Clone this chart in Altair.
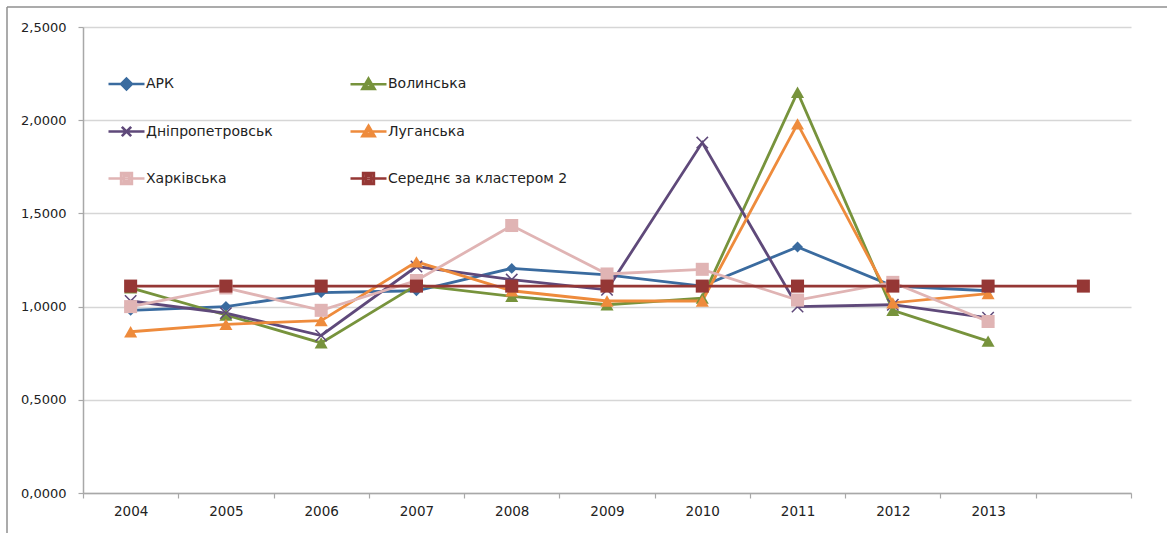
import altair as alt
import pandas as pd

categories = ["2004", "2005", "2006", "2007", "2008", "2009", "2010", "2011", "2012", "2013", " "]
series_names = ["АРК", "Волинська", "Дніпропетровськ", "Луганська", "Харківська", "Середнє за кластером 2"]

ark = [0.98, 1.00, 1.075, 1.085, 1.205, 1.17, 1.11, 1.32, 1.11, 1.085]
volyn = [1.10, 0.955, 0.805, 1.115, 1.055, 1.01, 1.045, 2.15, 0.98, 0.815]
dnipro = [1.03, 0.965, 0.845, 1.215, 1.145, 1.09, 1.88, 1.00, 1.01, 0.94]
luhansk = [0.865, 0.905, 0.925, 1.24, 1.085, 1.03, 1.03, 1.98, 1.02, 1.07]
kharkiv = [1.00, 1.10, 0.98, 1.14, 1.435, 1.175, 1.20, 1.035, 1.13, 0.92]
cluster_mean = [1.11, 1.11, 1.11, 1.11, 1.11, 1.11, 1.11, 1.11, 1.11, 1.11, 1.11]

y_ticks = [0, 0.5, 1.0, 1.5, 2.0, 2.5]

colors = ["#3A6B9F", "#77933C", "#5F497A", "#EE8B3C", "#E0B4B4", "#953735"]

X_PATH = "M-1,-1L1,1M-1,1L1,-1"
marker_shapes = ["diamond", "triangle-up", X_PATH, "triangle-up", "square", "square"]
marker_sizes = [120, 170, 130, 170, 170, 170]

DIAMOND_L = "M-1,0H1M0,-0.3L0.3,0L0,0.3L-0.3,0ZM0,-0.15L0.15,0L0,0.15L-0.15,0Z"
TRI_L = "M-1,0H1M0,-0.32L0.34,0.26L-0.34,0.26ZM0,-0.13L0.17,0.16L-0.17,0.16Z"
X_L = "M-1,0H1M-0.26,-0.26L0.26,0.26M-0.26,0.26L0.26,-0.26"
SQ_L = "M-1,0H1M-0.3,-0.3H0.3V0.3H-0.3ZM-0.15,-0.15H0.15V0.15H-0.15Z"
legend_shapes = [DIAMOND_L, TRI_L, X_L, TRI_L, SQ_L, SQ_L]

rows = []
for s_i, (name, vals) in enumerate(zip(series_names, [ark, volyn, dnipro, luhansk, kharkiv, cluster_mean])):
    for cat, v in zip(categories, vals):
        rows.append({"series": name, "year": cat, "value": v, "s": s_i})
df = pd.DataFrame(rows)

FONT = "DejaVu Sans"
GRID = "#d6d6d6"
AXIS = "#a8a8a8"
FRAME = "#8f8f8f"

x_enc = alt.X(
    "year:N",
    sort=categories,
    scale=alt.Scale(type="point", domain=categories, padding=0.5),
    axis=alt.Axis(
        title=None, ticks=False, domain=False, grid=False, labelAngle=0,
        labelFont=FONT, labelFontSize=13.5, labelColor="#222222",
        labelPadding=11, orient="bottom",
    ),
)
y_enc = alt.Y(
    "value:Q",
    scale=alt.Scale(domain=[0, 2.5], nice=False, zero=True),
    axis=alt.Axis(
        title=None, values=y_ticks,
        labelExpr="replace(format(datum.value, '.4f'), '.', ',')",
        grid=True, gridColor=GRID, gridWidth=1.5,
        domainColor=AXIS, domainWidth=1.5, tickColor=AXIS, tickWidth=1.2,
        tickSize=5, labelPadding=12, labelFont=FONT, labelFontSize=13,
        labelColor="#222222",
    ),
)

line_layers = []
point_layers = []
for i, name in enumerate(series_names):
    base = alt.Chart(df).transform_filter(alt.datum.series == name)
    line_layers.append(base.mark_line(strokeWidth=2.8, color=colors[i]).encode(x=x_enc, y=y_enc))
    if marker_shapes[i] == X_PATH:
        mk = base.mark_point(filled=False, opacity=1, size=marker_sizes[i], strokeWidth=1.5,
                             shape=X_PATH, color=colors[i])
    else:
        mk = base.mark_point(filled=True, opacity=1, size=marker_sizes[i],
                             shape=marker_shapes[i], color=colors[i])
    point_layers.append(mk.encode(x=x_enc, y=y_enc))

leg = alt.Legend(
    orient="none", legendX=24, legendY=37, columns=2, columnPadding=72,
    rowPadding=17, symbolSize=1296, symbolStrokeWidth=2.6, symbolOpacity=1,
    labelFont=FONT, labelFontSize=14, labelColor="#222222", labelOffset=0,
    labelLimit=400, padding=0, title=None, direction="horizontal",
)

legend_layer = alt.Chart(df).transform_filter("false").mark_point(filled=False, opacity=1).encode(
    x=x_enc, y=y_enc,
    color=alt.Color("series:N", scale=alt.Scale(domain=series_names, range=colors), legend=leg),
    shape=alt.Shape("series:N", scale=alt.Scale(domain=series_names, range=legend_shapes), legend=leg),
)

frame_src = alt.Chart(pd.DataFrame({"k": [0]}))
frame_left = frame_src.mark_rule(color=FRAME, strokeWidth=1.5).encode(
    x=alt.value(-76), y=alt.value(-20), y2=alt.value(520)
)
frame_top = frame_src.mark_rule(color=FRAME, strokeWidth=1.5).encode(
    x=alt.value(-76), x2=alt.value(1140), y=alt.value(-20)
)

tick_layer = alt.Chart(df).transform_filter("false").mark_point(opacity=0).encode(
    x=alt.X(
        "idx:Q",
        scale=alt.Scale(domain=[0, len(categories)], nice=False, zero=False),
        axis=alt.Axis(
            title=None, values=list(range(len(categories) + 1)), labels=False,
            ticks=True, tickSize=5, tickColor=AXIS, tickWidth=1.2, grid=False,
            domain=True, domainColor=AXIS, domainWidth=1.5, orient="bottom",
        ),
    ),
)

main = alt.layer(frame_left, frame_top, *line_layers, *point_layers, legend_layer)

chart = (
    alt.layer(tick_layer, main)
    .resolve_scale(x="independent")
    .properties(
        width=1048, height=466,
        padding={"left": 83, "top": 27, "right": 36, "bottom": 40},
        autosize=alt.AutoSizeParams(type="none"),
        background="white",
    )
    .configure_view(stroke=None)
)

chart.save("out.html", embed_options={"renderer": "svg", "actions": False})
